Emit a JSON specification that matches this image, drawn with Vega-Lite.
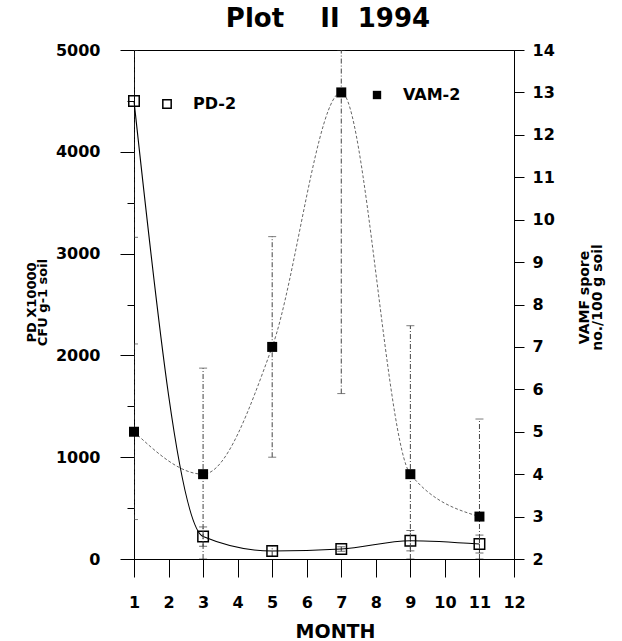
{
  "$schema": "https://vega.github.io/schema/vega-lite/v6.json",
  "autosize": {"type": "none"},
  "width": 380,
  "height": 509,
  "padding": {"left": 134, "top": 50, "right": 108, "bottom": 82},
  "background": "white",
  "title": {
    "text": "Plot\u00a0\u00a0\u00a0 II\u00a0 1994",
    "font": "DejaVu Sans",
    "fontSize": 26,
    "fontWeight": "bold",
    "color": "black",
    "anchor": "middle",
    "frame": "group",
    "baseline": "alphabetic",
    "offset": 12,
    "dx": 4,
    "dy": 23
  },
  "data": {
    "values": [
      {"month": 1, "pd": 4500, "pd_lo": 3160, "pd_hi": 5840, "vam": 5, "vam_lo": 2.93, "vam_hi": 7.07},
      {"month": 3, "pd": 220, "pd_lo": 125, "pd_hi": 315, "vam": 4, "vam_lo": 1.5, "vam_hi": 6.5},
      {"month": 5, "pd": 78, "pd_lo": 26, "pd_hi": 130, "vam": 7, "vam_lo": 4.4, "vam_hi": 9.6},
      {"month": 7, "pd": 98, "pd_lo": 76, "pd_hi": 120, "vam": 13, "vam_lo": 5.9, "vam_hi": 20.1},
      {"month": 9, "pd": 180, "pd_lo": 80, "pd_hi": 280, "vam": 4, "vam_lo": 0.5, "vam_hi": 7.5},
      {"month": 11, "pd": 147, "pd_lo": 59, "pd_hi": 235, "vam": 3, "vam_lo": 0.7, "vam_hi": 5.3}
    ]
  },
  "encoding": {
    "x": {
      "field": "month",
      "type": "quantitative",
      "scale": {"domain": [1, 12], "nice": false, "zero": false},
      "axis": {
        "title": "MONTH",
        "values": [1, 1.5, 2, 2.5, 3, 3.5, 4, 4.5, 5, 5.5, 6, 6.5, 7, 7.5, 8, 8.5, 9, 9.5, 10, 10.5, 11, 11.5, 12],
        "format": "d",
        "labelExpr": "datum.value % 1 === 0 ? datum.label : ''",
        "tickSize": 18,
        "tickDash": {"condition": {"test": "datum.value % 1 !== 0", "value": [8, 40]}, "value": []},
        "labelPadding": 17,
        "titleFontSize": 19,
        "titleX": 201,
        "titleY": 78,
        "titleBaseline": "alphabetic",
        "titleAlign": "center"
      }
    }
  },
  "layer": [
    {
      "mark": {"type": "rule", "clip": true, "stroke": "#333", "strokeWidth": 1, "strokeDash": [5, 2, 1, 2]},
      "encoding": {
        "y": {"field": "pd_lo", "type": "quantitative", "scale": {"domain": [0, 5000], "nice": false, "zero": false, "clamp": true}, "axis": null},
        "y2": {"field": "pd_hi"}
      }
    },
    {
      "mark": {"type": "tick", "orient": "horizontal", "size": 8, "thickness": 1, "color": "#333", "clip": true},
      "encoding": {
        "y": {"field": "pd_lo", "type": "quantitative", "scale": {"domain": [0, 5000], "nice": false, "zero": false, "clamp": true}, "axis": null}
      }
    },
    {
      "mark": {"type": "tick", "orient": "horizontal", "size": 8, "thickness": 1, "color": "#333", "clip": true},
      "encoding": {
        "y": {"field": "pd_hi", "type": "quantitative", "scale": {"domain": [0, 5000], "nice": false, "zero": false, "clamp": true}, "axis": null}
      }
    },
    {
      "mark": {"type": "line", "interpolate": "monotone", "color": "black", "strokeWidth": 1.1},
      "encoding": {
        "y": {"field": "pd", "type": "quantitative", "scale": {"domain": [0, 5000], "nice": false, "zero": false}, "axis": null}
      }
    },
    {
      "mark": {"type": "point", "shape": "square", "filled": false, "stroke": "black", "strokeWidth": 1.5, "size": 110, "opacity": 1},
      "encoding": {
        "y": {
          "field": "pd",
          "type": "quantitative",
          "scale": {"domain": [0, 5000], "nice": false, "zero": false},
          "axis": {
            "orient": "left",
            "values": [0, 500, 1000, 1500, 2000, 2500, 3000, 3500, 4000, 4500, 5000],
            "format": "d",
            "labelExpr": "datum.value % 1000 === 0 ? datum.label : ''",
            "tickSize": 14,
            "tickDash": {"condition": {"test": "datum.value % 1000 !== 0", "value": [7, 40]}, "value": []},
            "labelPadding": 20,
            "title": ["PD X10000", "CFU g-1 soil"],
            "titleFontSize": 13,
            "titleLineHeight": 11,
            "titleAngle": -90,
            "titleX": -103,
            "titleY": 252,
            "titleAlign": "center",
            "titleBaseline": "middle"
          }
        },
        "shape": {
          "datum": "PD-2",
          "type": "nominal",
          "scale": {"range": ["square"]},
          "legend": {
            "orient": "none",
            "legendX": 25,
            "legendY": 46,
            "title": null,
            "padding": 0,
            "symbolSize": 70,
            "symbolStrokeWidth": 1.5,
            "symbolStrokeColor": "black",
            "symbolFillColor": "white",
            "labelFont": "DejaVu Sans",
            "labelFontSize": 16,
            "labelFontWeight": "bold",
            "labelColor": "black",
            "labelOffset": 18
          }
        }
      }
    },
    {
      "mark": {"type": "rule", "clip": true, "stroke": "#444", "strokeWidth": 1, "strokeDash": [5, 2, 1, 2]},
      "encoding": {
        "y": {"field": "vam_lo", "type": "quantitative", "scale": {"domain": [2, 14], "nice": false, "zero": false, "clamp": true}, "axis": null},
        "y2": {"field": "vam_hi"}
      }
    },
    {
      "mark": {"type": "tick", "orient": "horizontal", "size": 8, "thickness": 1, "color": "#444", "clip": true},
      "encoding": {
        "y": {"field": "vam_lo", "type": "quantitative", "scale": {"domain": [2, 14], "nice": false, "zero": false, "clamp": true}, "axis": null}
      }
    },
    {
      "mark": {"type": "tick", "orient": "horizontal", "size": 8, "thickness": 1, "color": "#444", "clip": true},
      "encoding": {
        "y": {"field": "vam_hi", "type": "quantitative", "scale": {"domain": [2, 14], "nice": false, "zero": false, "clamp": true}, "axis": null}
      }
    },
    {
      "mark": {"type": "line", "interpolate": "monotone", "color": "#666", "strokeWidth": 1, "strokeDash": [3, 2]},
      "encoding": {
        "y": {"field": "vam", "type": "quantitative", "scale": {"domain": [2, 14], "nice": false, "zero": false}, "axis": null}
      }
    },
    {
      "mark": {"type": "point", "shape": "square", "filled": true, "color": "black", "size": 100, "opacity": 1},
      "encoding": {
        "y": {
          "field": "vam",
          "type": "quantitative",
          "scale": {"domain": [2, 14], "nice": false, "zero": false},
          "axis": {
            "orient": "right",
            "values": [2, 2.5, 3, 3.5, 4, 4.5, 5, 5.5, 6, 6.5, 7, 7.5, 8, 8.5, 9, 9.5, 10, 10.5, 11, 11.5, 12, 12.5, 13, 13.5, 14],
            "format": "d",
            "labelExpr": "datum.value % 1 === 0 ? datum.label : ''",
            "tickSize": 10,
            "tickDash": {"condition": {"test": "datum.value % 1 !== 0", "value": [5, 40]}, "value": []},
            "labelPadding": 8,
            "title": ["VAMF spore", "no./100 g soil"],
            "titleFontSize": 14,
            "titleLineHeight": 13,
            "titleAngle": -90,
            "titleX": 70,
            "titleY": 247,
            "titleAlign": "center",
            "titleBaseline": "middle"
          }
        },
        "shape": {
          "datum": "VAM-2",
          "type": "nominal",
          "scale": {"range": ["square"]},
          "legend": {
            "orient": "none",
            "legendX": 235,
            "legendY": 37,
            "title": null,
            "padding": 0,
            "symbolSize": 70,
            "symbolFillColor": "black",
            "symbolStrokeColor": "black",
            "labelFont": "DejaVu Sans",
            "labelFontSize": 16,
            "labelFontWeight": "bold",
            "labelColor": "black",
            "labelOffset": 18
          }
        }
      }
    }
  ],
  "resolve": {"scale": {"y": "independent", "shape": "independent"}},
  "config": {
    "view": {"stroke": "black", "strokeWidth": 1},
    "font": "DejaVu Sans",
    "axis": {
      "domainColor": "black",
      "domainWidth": 1,
      "tickColor": "black",
      "tickWidth": 1,
      "labelColor": "black",
      "labelFont": "DejaVu Sans",
      "labelFontWeight": "bold",
      "labelFontSize": 16,
      "titleColor": "black",
      "titleFont": "DejaVu Sans",
      "titleFontWeight": "bold",
      "grid": false,
      "labelFlush": false,
      "labelOverlap": false
    }
  }
}
